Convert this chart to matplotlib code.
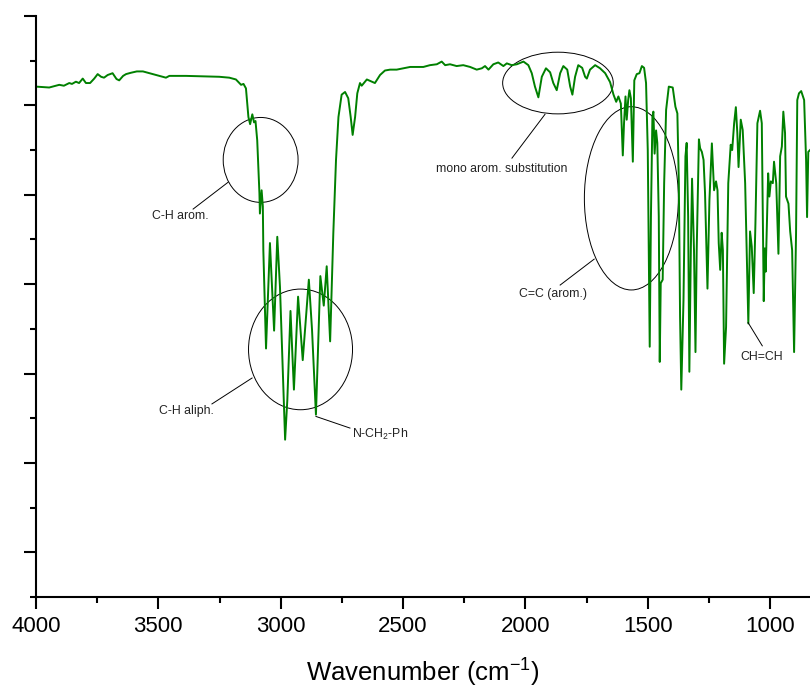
import matplotlib
matplotlib.use("Agg")
import matplotlib.pyplot as plt
from matplotlib.patches import Ellipse
from matplotlib.ticker import MultipleLocator

plt.rcParams['font.family'] = ['Liberation Sans', 'DejaVu Sans']
plt.rcParams['mathtext.fontset'] = 'custom'
plt.rcParams['mathtext.rm'] = 'Liberation Sans'

# IR spectrum (wavenumber in cm-1, transmittance in arbitrary units)
wavenumber = [4000, 3946, 3905, 3886, 3864, 3853, 3837, 3824, 3809, 3796,
              3779, 3762, 3748, 3734, 3722, 3707, 3687, 3671, 3660, 3644,
              3632, 3612, 3588, 3563, 3523, 3482, 3469, 3455, 3387, 3319,
              3251, 3210, 3183, 3169, 3162, 3152, 3142, 3132, 3125, 3116,
              3109, 3103, 3096, 3087, 3085, 3078, 3073, 3071, 3060, 3044,
              3027, 3014, 3003, 2992, 2982, 2973, 2960, 2946, 2929, 2910,
              2885, 2872, 2856, 2838, 2824, 2812, 2798, 2785, 2774, 2764,
              2751, 2737, 2724, 2714, 2706, 2696, 2687, 2676, 2669, 2648,
              2628, 2615, 2594, 2574, 2553, 2526, 2499, 2471, 2444, 2417,
              2390, 2362, 2342, 2328, 2308, 2281, 2254, 2226, 2199, 2178,
              2165, 2151, 2131, 2111, 2090, 2076, 2056, 2035, 2008, 1988,
              1974, 1961, 1947, 1933, 1916, 1899, 1886, 1872, 1858, 1845,
              1829, 1817, 1808, 1797, 1784, 1768, 1756, 1749, 1736, 1715,
              1695, 1674, 1654, 1640, 1629, 1620, 1610, 1602, 1597, 1591,
              1586, 1580, 1575, 1569, 1561, 1555, 1545, 1534, 1524, 1515,
              1507, 1500, 1492, 1487, 1481, 1477, 1472, 1466, 1461, 1455,
              1451, 1447, 1439, 1433, 1425, 1414, 1398, 1387, 1379, 1373,
              1368, 1363, 1354, 1346, 1341, 1335, 1330, 1324, 1319, 1311,
              1305, 1300, 1291, 1286, 1279, 1272, 1266, 1256, 1248, 1238,
              1229, 1221, 1215, 1210, 1204, 1198, 1193, 1188, 1180, 1171,
              1161, 1155, 1147, 1140, 1134, 1129, 1120, 1112, 1102, 1095,
              1089, 1082, 1075, 1067, 1060, 1052, 1041, 1034, 1030, 1026,
              1022, 1018, 1008, 1003, 997, 989, 984, 975, 966, 959,
              952, 946, 939, 935, 925, 918, 910, 902, 894, 889,
              882, 873, 861, 853, 849, 844, 837]
transmittance = [52.1, 52.0, 52.3, 52.2, 52.5, 52.4, 52.65, 52.5, 53.0, 52.5,
                 52.5, 53.0, 53.5, 53.2, 53.1, 53.4, 53.6, 52.95, 52.8, 53.3,
                 53.5, 53.65, 53.8, 53.8, 53.5, 53.2, 53.1, 53.3, 53.3, 53.25,
                 53.2, 53.1, 52.9, 52.5, 52.3, 52.4, 51.9, 48.7, 47.9, 49.0,
                 48.1, 48.25, 46.1, 40.2, 37.9, 40.5, 38.7, 33.8, 22.8, 34.6,
                 24.8, 35.3, 29.7, 20.8, 12.6, 17.0, 27.0, 18.2, 28.6, 21.5,
                 30.5, 24.9, 15.4, 30.9, 27.6, 32.0, 23.6, 35.7, 43.9, 48.7,
                 51.2, 51.5, 50.8, 48.7, 46.7, 48.7, 51.35, 52.5, 52.2, 52.9,
                 52.65, 52.5, 53.4, 53.9, 54.0, 54.0, 54.15, 54.3, 54.3, 54.3,
                 54.5, 54.6, 54.9, 54.5, 54.6, 54.4, 54.5, 54.3, 54.0, 54.15,
                 54.4, 54.0, 54.6, 54.8, 54.4, 54.7, 54.5, 54.6, 54.9, 54.5,
                 53.6, 52.1, 50.9, 53.2, 54.15, 53.7, 52.5, 51.7, 53.6, 54.4,
                 54.0, 52.1, 51.2, 53.2, 54.5, 54.2, 53.2, 53.0, 54.0, 54.5,
                 54.15, 53.6, 52.6, 51.2, 50.4, 51.0, 50.2, 44.4, 48.0, 51.0,
                 48.4, 50.6, 51.7, 50.8, 43.7, 52.8, 53.5, 53.6, 54.4, 54.2,
                 52.5, 45.0, 23.0, 37.6, 48.7, 49.3, 44.6, 47.2, 45.8, 37.6,
                 21.3, 30.1, 30.5, 41.3, 49.5, 52.1, 52.0, 49.85, 49.1, 41.3,
                 26.4, 18.2, 28.2, 44.3, 45.8, 37.6, 20.2, 33.8, 41.8, 33.8,
                 22.4, 33.8, 46.2, 45.2, 44.8, 43.9, 40.2, 29.5, 39.4, 45.75,
                 40.5, 41.5, 40.5, 34.6, 31.6, 35.75, 33.8, 21.1, 25.2, 41.3,
                 45.6, 45.0, 48.0, 49.8, 46.9, 43.1, 48.4, 47.25, 41.3, 33.1,
                 25.6, 35.9, 34.2, 29.0, 36.8, 48.0, 49.4, 48.0, 37.5, 28.1,
                 34.0, 31.4, 42.4, 39.8, 41.5, 41.3, 43.7, 41.3, 33.4, 44.3,
                 45.4, 49.3, 46.9, 39.8, 39.0, 35.9, 33.8, 22.4, 35.7, 50.6,
                 51.35, 51.6, 50.6, 43.9, 37.5, 44.8, 45.0]

# band assignments: ellipse centre/size, then label, leader start/end, text position
circles = [
    ((3082, 43.9), 306, 9.5),
    ((2919, 22.7), 425, 13.5),
    ((1867, 52.5), 452, 6.9),
    ((1567, 39.6), 384, 20.5),
]
labels = [
    ("C-H arom.", (3215, 41.4), (3358, 38.4), (3411, 37.6), "center"),
    ("C-H aliph.", (3117, 19.5), (3281, 16.6), (3387, 15.8), "center"),
    ("N-CH$_2$-Ph", (2856, 15.2), (2717, 13.9), (2709, 13.2), "left"),
    ("mono arom. substitution", (1920, 49.0), (2055, 44.1), (2095, 42.9), "center"),
    ("C=C (arom.)", (1719, 32.8), (1858, 29.9), (1887, 28.9), "center"),
    ("CH=CH", (1090, 25.7), (1032, 23.1), (1033, 21.8), "center"),
]

fig = plt.figure(figsize=(8.1, 6.88), dpi=100)
ax = fig.add_axes([36 / 810, 91 / 688, 1 - 36 / 810, 581 / 688])

ax.plot(wavenumber, transmittance, color='#008000', lw=1.4)

for (cx, cy), w, h in circles:
    ax.add_patch(Ellipse((cx, cy), w, h, fill=False, ec='black', lw=0.7))
for text, p0, p1, tp, ha in labels:
    ax.plot([p0[0], p1[0]], [p0[1], p1[1]], color='black', lw=0.7)
    ax.text(tp[0], tp[1], text, ha=ha, va='center', fontsize=8.8, color='#222222')

ax.set_xlim(4000, 837)
ax.set_ylim(-5, 60)
ax.xaxis.set_major_locator(MultipleLocator(500))
ax.xaxis.set_minor_locator(MultipleLocator(250))
ax.yaxis.set_major_locator(MultipleLocator(10))
ax.yaxis.set_minor_locator(MultipleLocator(5))
ax.tick_params(which='major', direction='out', length=8.5, width=1.5, labelsize=16, pad=5)
ax.tick_params(which='minor', direction='out', length=4, width=1.5)
ax.tick_params(axis='y', labelleft=False)
ax.spines['top'].set_visible(False)
ax.spines['right'].set_visible(False)
ax.spines['left'].set_linewidth(1.5)
ax.spines['bottom'].set_linewidth(1.5)
ax.set_xlabel("Wavenumber (cm$^{-1}$)", fontsize=18.5, labelpad=13)

fig.savefig("out.png", dpi=100)
